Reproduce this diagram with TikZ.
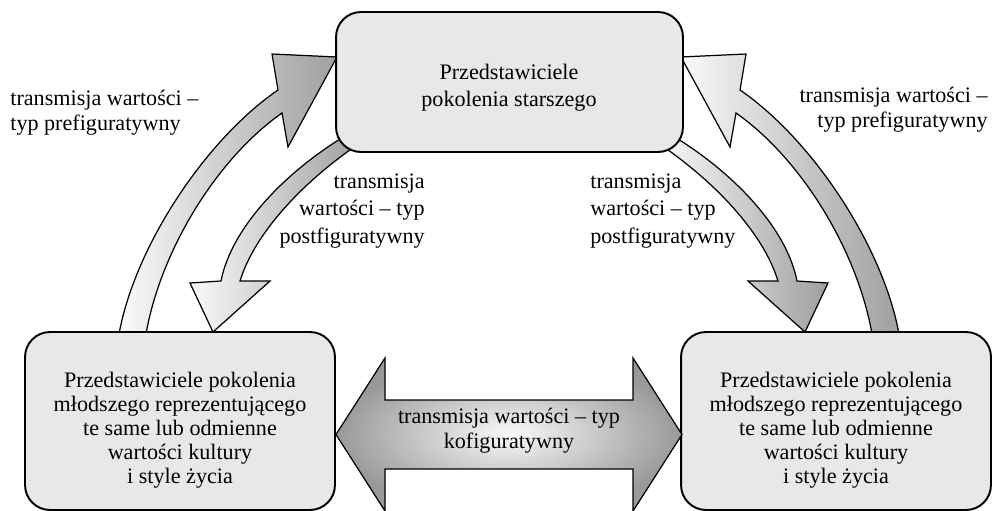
\documentclass[tikz,border=0pt]{standalone}
\usepackage{fontspec}
\setmainfont{Liberation Serif}
\begin{document}
\begin{tikzpicture}[x=0.02cm, y=-0.02cm,
	pokolenie/.style={draw=black, line width=1.1pt, fill=gray!18, rounded corners=0.5cm},
	opis/.style={inner sep=0pt, font=\fontsize{12.6}{14.3}\selectfont},
	strzalka/.style={draw=black, line width=0.7pt, left color=gray!4, right color=gray!75}]
	\useasboundingbox (0,0) rectangle (992,511);
	
	% CURVED ARROWS
	\draw[strzalka] (118,340) .. controls (132,250) and (205,140) .. (278,90) -- (272,54) -- (337,57)
	-- (288,147) -- (282,113) .. controls (215,160) and (158,255) .. (145,340) -- cycle; % prefiguratywny
	\draw[strzalka] (350,133) .. controls (290,168) and (232,225) .. (221,281) -- (190,283) -- (213,332)
	-- (270,281) -- (240,281) .. controls (255,232) and (305,180) .. (360,143) -- cycle; % postfiguratywny
	\draw[strzalka] (900,340) .. controls (886,250) and (813,140) .. (740,90) -- (746,54) -- (681,57)
	-- (730,147) -- (736,113) .. controls (803,160) and (860,255) .. (873,340) -- cycle; % prefiguratywny
	\draw[strzalka] (668,133) .. controls (728,168) and (786,225) .. (797,281) -- (828,283) -- (805,332)
	-- (748,281) -- (778,281) .. controls (763,232) and (713,180) .. (658,143) -- cycle; % postfiguratywny
	
	% BOXES
	\node[pokolenie, minimum width=6.94cm, minimum height=2.8cm] (starsi) at (509.5,82) {};
	\node[pokolenie, minimum width=6.2cm, minimum height=3.56cm] (mlodsiL) at (180,421) {};
	\node[pokolenie, minimum width=6.2cm, minimum height=3.56cm] (mlodsiP) at (836,421) {};
	
	% DOUBLE ARROW
	\draw[line width=0.7pt, inner color=gray!4, outer color=gray!80] (336,434.5) -- (385,358) -- (385,400)
	-- (633,400) -- (633,358) -- (682,434.5) -- (633,511) -- (633,469) -- (385,469) -- (385,511) -- cycle;
	
	% TEXTS
	\node[opis, align=center, font=\fontsize{12.6}{15.4}\selectfont] (starsiTekst) at (509,87.5)
	{Przedstawiciele\\pokolenia starszego};
	\node[opis, align=center, font=\fontsize{12.6}{13.6}\selectfont] (mlodsiLTekst) at (180,430)
	{Przedstawiciele pokolenia\\młodszego reprezentującego\\te same lub odmienne\\wartości kultury\\i style życia};
	\node[opis, align=center, font=\fontsize{12.6}{13.6}\selectfont] (mlodsiPTekst) at (836,430)
	{Przedstawiciele pokolenia\\młodszego reprezentującego\\te same lub odmienne\\wartości kultury\\i style życia};
	\node[opis, align=center] (kofig) at (509,430.5) {transmisja wartości – typ\\kofiguratywny};
	\node[opis, align=left, anchor=west] (prefigL) at (10,112.5) {transmisja wartości –\\typ prefiguratywny};
	\node[opis, align=right, anchor=east] (prefigP) at (988,110) {transmisja wartości –\\typ prefiguratywny};
	\node[opis, align=right, anchor=east, font=\fontsize{12.6}{15.4}\selectfont] (postfigL) at (425,211)
	{transmisja\\wartości – typ\\postfiguratywny};
	\node[opis, align=left, anchor=west, font=\fontsize{12.6}{15.4}\selectfont] (postfigP) at (590,211)
	{transmisja\\wartości – typ\\postfiguratywny};
\end{tikzpicture}
\end{document}
